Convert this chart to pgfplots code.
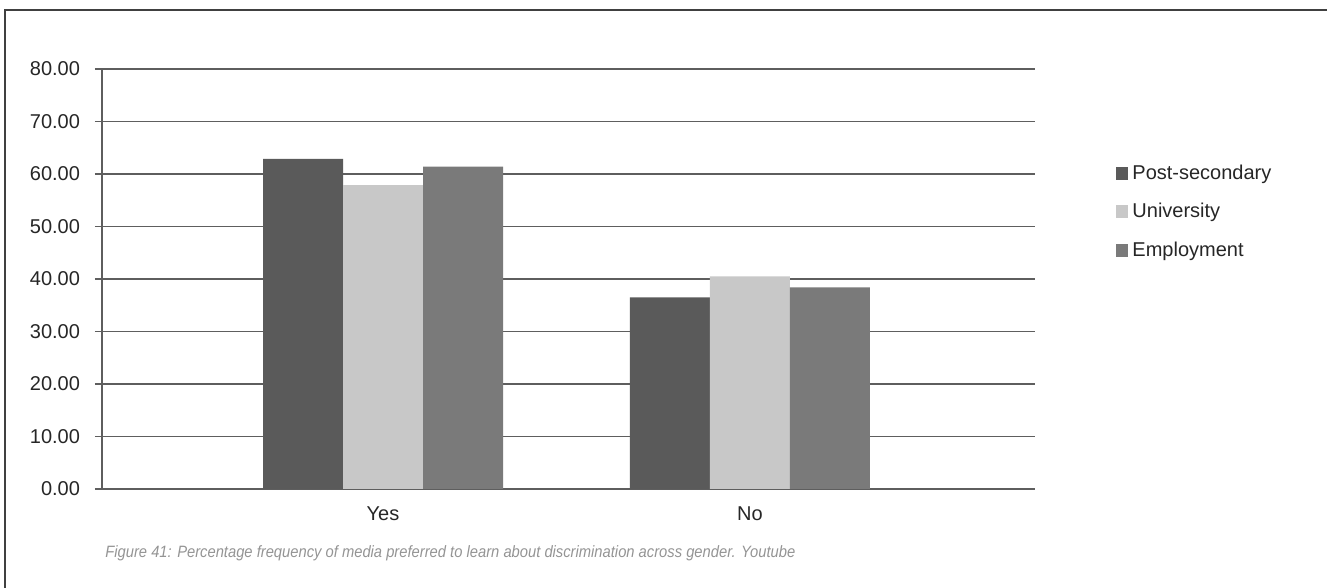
\documentclass[border=0pt]{standalone}
\usepackage{fontspec}
\setmainfont{Liberation Sans}
\usepackage{pgfplots}
\pgfplotsset{compat=1.18}
\definecolor{cPost}{HTML}{5A5A5A}
\definecolor{cUni}{HTML}{C8C8C8}
\definecolor{cEmp}{HTML}{7A7A7A}
\definecolor{cGrid}{HTML}{5E5E5E}
\begin{document}
\begin{tikzpicture}
\begin{axis}[
  scale only axis,
  width=466.5pt, height=210pt,
  ybar=0pt, bar width=40pt,
  xmin=-0.766, xmax=1.777,
  ymin=0, ymax=80,
  xtick={0,1}, xticklabels={Yes,No},
  extra x ticks={0.5}, extra x tick labels={},
  extra x tick style={grid=none, major tick length=4pt},
  ytick={0,10,...,80},
  axis x line=bottom, axis y line=left,
  axis line style={cGrid, line width=0.75pt, -},
  ymajorgrids, grid style={cGrid, line width=0.75pt},
  major tick length=3.5pt,
  tick style={cGrid, line width=0.6pt},
  x tick style={draw=none},
  tick align=outside,
  /pgf/number format/.cd, fixed, fixed zerofill, precision=2, assume math mode=true,
  /pgfplots/.cd,
  tick label style={font=\fontsize{10pt}{12pt}\selectfont, text=black!85},
  yticklabel style={xshift=-4pt},
  xticklabel style={yshift=-2pt},
  legend style={at={(axis description cs:1.086,0.783)}, anchor=north west, draw=none, fill=none,
    font=\fontsize{10pt}{12pt}\selectfont, text=black!85, row sep=6.5pt, inner sep=0pt,
    cells={anchor=west}},
  legend image code/.code={\fill[#1, draw=none] (0pt,-3.2pt) rectangle (6.4pt,3.2pt);},
  legend cell align=left,
]
\addplot[fill=cPost, draw=none] coordinates {(0,62.9) (1,36.5)};
\addplot[fill=cUni, draw=none] coordinates {(0,57.9) (1,40.5)};
\addplot[fill=cEmp, draw=none] coordinates {(0,61.4) (1,38.4)};
\legend{Post-secondary,University,Employment}
\end{axis}
\draw[line width=1pt, black!75] (-48.5pt,-49.5pt) -- (-48.5pt,239.5pt) -- (612.5pt,239.5pt);
\node[anchor=west, inner sep=0pt, text=black!42] at (1.5pt,-32pt) {\resizebox{345pt}{\height}{\fontsize{8.2pt}{10pt}\selectfont\itshape Figure 41: Percentage frequency of media preferred to learn about discrimination across gender. Youtube}};
\pgfresetboundingbox
\useasboundingbox (-51pt,-49.5pt) rectangle (612.5pt,244.5pt);
\end{tikzpicture}
\end{document}
